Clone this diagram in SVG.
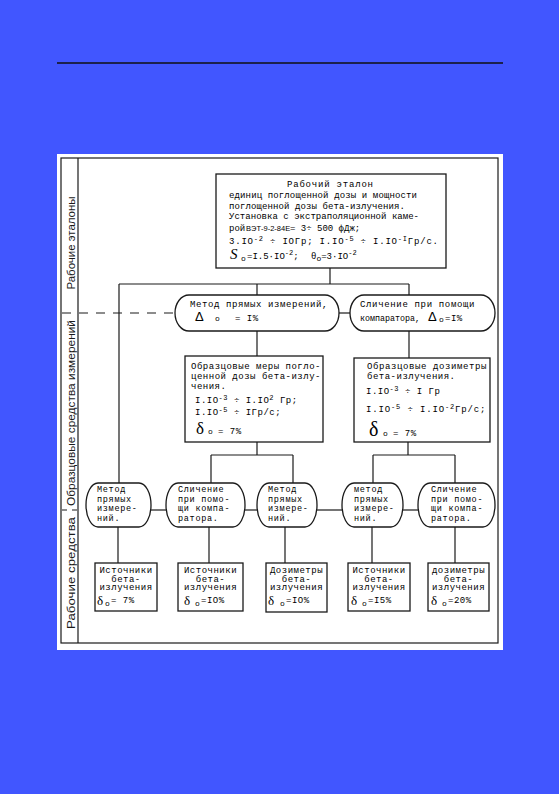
<svg xmlns="http://www.w3.org/2000/svg" width="559" height="794" viewBox="0 0 559 794">
<style>
.ln{stroke:#1a1a1a;stroke-width:1.2;fill:none}
.dash{stroke:#1a1a1a;stroke-width:1.2;fill:none;stroke-dasharray:9,8}
.bx{fill:#fff;stroke:#1a1a1a;stroke-width:1.3}
.t{font-family:"Liberation Mono","DejaVu Sans Mono",monospace;font-size:9px;letter-spacing:0.5px;fill:#000}
.o{font-family:"Liberation Mono","DejaVu Sans Mono",monospace;font-size:8.5px;letter-spacing:0.7px;fill:#000}
.tt{font-family:"Liberation Mono","DejaVu Sans Mono",monospace;font-size:9px;fill:#000}
.sup{font-size:7px}
.sub{font-size:8px}
.lbl{font-family:"Liberation Sans",Arial,sans-serif;font-size:11px;fill:#1a1a1a}
.sym{font-family:"Liberation Serif","Times New Roman",serif}
.gr{font-family:"Liberation Sans",Arial,sans-serif}
</style>
<rect width="559" height="794" fill="#4156ff"/>
<line x1="57" y1="63" x2="503" y2="63" stroke="#111" stroke-width="1.3"/>
<rect x="57" y="154" width="446" height="496" fill="#fff"/>
<g id="frame">
<rect x="61" y="158" width="437" height="485" class="ln" stroke-width="1.4"/>
<line x1="78" y1="158" x2="78" y2="643" class="ln"/>
<text class="lbl" transform="translate(75,243) rotate(-90)" text-anchor="middle" textLength="93" lengthAdjust="spacingAndGlyphs">Рабочие эталоны</text>
<text class="lbl" transform="translate(75,413) rotate(-90)" text-anchor="middle" textLength="186" lengthAdjust="spacingAndGlyphs">Образцовые средства измерений</text>
<text class="lbl" transform="translate(75,573) rotate(-90)" text-anchor="middle" textLength="112" lengthAdjust="spacingAndGlyphs">Рабочие средства</text>
</g>
<g id="connectors">
<line x1="330" y1="268" x2="330" y2="284" class="ln"/>
<line x1="119" y1="284" x2="409" y2="284" class="ln"/>
<line x1="119" y1="284" x2="119" y2="483" class="ln"/>
<line x1="257" y1="284" x2="257" y2="295" class="ln"/>
<line x1="409" y1="284" x2="409" y2="295" class="ln"/>
<line x1="62" y1="313" x2="175" y2="313" class="dash"/>
<line x1="339" y1="313" x2="350" y2="313" class="ln"/>
<line x1="257" y1="331" x2="257" y2="356" class="ln"/>
<line x1="409" y1="331" x2="409" y2="358" class="ln"/>
<line x1="257" y1="442" x2="257" y2="455" class="ln"/>
<line x1="211" y1="455" x2="293" y2="455" class="ln"/>
<line x1="211" y1="455" x2="211" y2="483" class="ln"/>
<line x1="293" y1="455" x2="293" y2="483" class="ln"/>
<line x1="408" y1="442" x2="408" y2="455" class="ln"/>
<line x1="373" y1="455" x2="455" y2="455" class="ln"/>
<line x1="373" y1="455" x2="373" y2="483" class="ln"/>
<line x1="455" y1="455" x2="455" y2="483" class="ln"/>
<line x1="62" y1="510" x2="78" y2="510" class="ln" stroke-dasharray="5,5"/>
<line x1="151" y1="510" x2="166" y2="510" class="ln"/>
<line x1="245" y1="510" x2="257" y2="510" class="ln"/>
<line x1="317" y1="510" x2="342" y2="510" class="ln"/>
<line x1="403" y1="510" x2="418" y2="510" class="ln"/>
<line x1="118" y1="527" x2="118" y2="563" class="ln"/>
<line x1="209" y1="527" x2="209" y2="563" class="ln"/>
<line x1="285" y1="527" x2="285" y2="563" class="ln"/>
<line x1="372" y1="527" x2="372" y2="563" class="ln"/>
<line x1="455" y1="527" x2="455" y2="563" class="ln"/>
</g>
<g id="top-standard">
<rect x="216" y="174" width="230" height="94" class="bx"/>
<text class="tt" x="330" y="187" text-anchor="middle" textLength="86">Рабочий эталон</text>
<text class="tt" x="229" y="198" textLength="188">единиц поглощенной дозы и мощности</text>
<text class="tt" x="229" y="208.5" textLength="176">поглощенной дозы бета-излучения.</text>
<text class="tt" x="229" y="219" textLength="190">Установка с экстраполяционной каме-</text>
<text class="tt" y="231"><tspan x="229">рой</tspan><tspan x="246" class="gr" font-size="7.5">ВЭТ-9-2-84Е</tspan><tspan x="290">= 3÷ 500 фДж;</tspan></text>
<text class="tt" x="229" y="244" textLength="209">3.IO<tspan class="sup" dy="-3.5">-2</tspan><tspan dy="3.5"> ÷ IOГр; I.IO</tspan><tspan class="sup" dy="-3.5">-5</tspan><tspan dy="3.5"> ÷ I.IO</tspan><tspan class="sup" dy="-3.5">-I</tspan><tspan dy="3.5">Гр/с.</tspan></text>
<text class="tt" y="258.5"><tspan x="230" class="sym" font-size="15" font-style="italic">S</tspan><tspan x="241" dy="2" class="sub">o</tspan><tspan x="247" dy="-2">=I.5·IO</tspan><tspan class="sup" dy="-3.5">-2</tspan><tspan dy="3.5">;</tspan><tspan x="311">θ</tspan><tspan dy="2" class="sub">o</tspan><tspan dy="-2">=3·IO</tspan><tspan class="sup" dy="-3.5">-2</tspan></text>
</g>
<g id="method-direct">
<rect x="175" y="295" width="164" height="36" rx="14" ry="18" class="bx"/>
<text class="t" x="190" y="307" textLength="138">Метод прямых измерений,</text>
<text class="t" y="321"><tspan x="195" class="gr" font-size="13">Δ</tspan><tspan x="215" class="sub">о</tspan><tspan x="235">= I%</tspan></text>
</g>
<g id="method-comparator">
<rect x="350" y="295" width="145" height="36" rx="14" ry="18" class="bx"/>
<text class="t" x="360" y="307" textLength="115">Сличение при помощи</text>
<text class="tt" x="360" y="321" textLength="60" lengthAdjust="spacingAndGlyphs">компаратора,</text>
<text class="t" y="321"><tspan x="428" class="gr" font-size="13">Δ</tspan><tspan x="439" class="sub" dy="1">о</tspan><tspan x="445" dy="-1">=I%</tspan></text>
</g>
<g id="ref-measures">
<rect x="185" y="356" width="138" height="86" class="bx"/>
<text class="t" x="191" y="369" textLength="130">Образцовые меры погло-</text>
<text class="t" x="191" y="379" textLength="130">ценной дозы бета-излу-</text>
<text class="t" x="191" y="389">чения.</text>
<text class="t" x="195" y="403">I.IO<tspan class="sup" dy="-3.5">-3</tspan><tspan dy="3.5"> ÷ I.IO</tspan><tspan class="sup" dy="-3.5">2</tspan><tspan dy="3.5"> Гр;</tspan></text>
<text class="t" x="195" y="415">I.IO<tspan class="sup" dy="-3.5">-5</tspan><tspan dy="3.5"> ÷ IГр/с;</tspan></text>
<text class="t" y="434"><tspan x="196" class="sym" font-size="17">δ</tspan><tspan x="208" class="sub">о</tspan><tspan x="218">= 7%</tspan></text>
</g>
<g id="ref-dosimeters">
<rect x="354" y="358" width="136" height="84" class="bx"/>
<text class="t" x="367" y="369" textLength="120">Образцовые дозиметры</text>
<text class="t" x="367" y="379">бета-излучения.</text>
<text class="t" x="366" y="394">I.IO<tspan class="sup" dy="-3.5">-3</tspan><tspan dy="3.5"> ÷ I Гр</tspan></text>
<text class="t" x="366" y="412" textLength="120">I.IO<tspan class="sup" dy="-3.5">-5</tspan><tspan dy="3.5"> ÷ I.IO</tspan><tspan class="sup" dy="-3.5">-2</tspan><tspan dy="3.5">Гр/с;</tspan></text>
<text class="t" y="436"><tspan x="369" class="sym" font-size="20">δ</tspan><tspan x="383" class="sub">о</tspan><tspan x="393">= 7%</tspan></text>
</g>
<g id="oval-a">
<rect x="86" y="483" width="65" height="44" rx="12" ry="22" class="bx"/>
<text class="o" x="97" y="492">Метод</text>
<text class="o" x="97" y="501.5">прямых</text>
<text class="o" x="97" y="511">измере-</text>
<text class="o" x="97" y="520.5">ний.</text>
</g>
<g id="oval-b">
<rect x="166" y="483" width="79" height="44" rx="12" ry="22" class="bx"/>
<text class="o" x="178" y="492">Сличение</text>
<text class="o" x="178" y="501.5">при помо-</text>
<text class="o" x="178" y="511">щи компа-</text>
<text class="o" x="178" y="520.5">ратора.</text>
</g>
<g id="oval-c">
<rect x="257" y="483" width="60" height="44" rx="12" ry="22" class="bx"/>
<text class="o" x="268" y="492">Метод</text>
<text class="o" x="268" y="501.5">прямых</text>
<text class="o" x="268" y="511">измере-</text>
<text class="o" x="268" y="520.5">ний.</text>
</g>
<g id="oval-d">
<rect x="342" y="483" width="61" height="44" rx="12" ry="22" class="bx"/>
<text class="o" x="354" y="492">метод</text>
<text class="o" x="354" y="501.5">прямых</text>
<text class="o" x="354" y="511">измере-</text>
<text class="o" x="354" y="520.5">ний.</text>
</g>
<g id="oval-e">
<rect x="418" y="483" width="77" height="44" rx="12" ry="22" class="bx"/>
<text class="o" x="431" y="492">Сличение</text>
<text class="o" x="431" y="501.5">при помо-</text>
<text class="o" x="431" y="511">щи компа-</text>
<text class="o" x="431" y="520.5">ратора.</text>
</g>
<g id="work-1">
<rect x="95" y="563" width="62" height="48" class="bx"/>
<text class="t" x="126" y="573" text-anchor="middle">Источники</text>
<text class="t" x="126" y="581.5" text-anchor="middle">бета-</text>
<text class="t" x="126" y="590" text-anchor="middle">излучения</text>
<text class="t" y="605"><tspan x="97" class="sym" font-size="13">δ</tspan><tspan x="105" class="sub" dy="1">о</tspan><tspan x="111" dy="-3">= 7%</tspan></text>
</g>
<g id="work-2">
<rect x="178" y="563" width="65" height="48" class="bx"/>
<text class="t" x="210.5" y="573" text-anchor="middle">Источники</text>
<text class="t" x="210.5" y="581.5" text-anchor="middle">бета-</text>
<text class="t" x="210.5" y="590" text-anchor="middle">излучения</text>
<text class="t" y="605"><tspan x="184" class="sym" font-size="13">δ</tspan><tspan x="195" class="sub" dy="1">о</tspan><tspan x="201" dy="-3">=IO%</tspan></text>
</g>
<g id="work-3">
<rect x="266" y="563" width="61" height="49" class="bx"/>
<text class="t" x="296.5" y="573" text-anchor="middle">Дозиметры</text>
<text class="t" x="296.5" y="581.5" text-anchor="middle">бета-</text>
<text class="t" x="296.5" y="590" text-anchor="middle">излучения</text>
<text class="t" y="605"><tspan x="268" class="sym" font-size="13">δ</tspan><tspan x="280" class="sub" dy="1">о</tspan><tspan x="286" dy="-3">=IO%</tspan></text>
</g>
<g id="work-4">
<rect x="348" y="563" width="62" height="48" class="bx"/>
<text class="t" x="379" y="573" text-anchor="middle">Источники</text>
<text class="t" x="379" y="581.5" text-anchor="middle">бета-</text>
<text class="t" x="379" y="590" text-anchor="middle">излучения</text>
<text class="t" y="605"><tspan x="351" class="sym" font-size="13">δ</tspan><tspan x="362" class="sub" dy="1">о</tspan><tspan x="368" dy="-3">=I5%</tspan></text>
</g>
<g id="work-5">
<rect x="428" y="563" width="61" height="48" class="bx"/>
<text class="t" x="458.5" y="573" text-anchor="middle">дозиметры</text>
<text class="t" x="458.5" y="581.5" text-anchor="middle">бета-</text>
<text class="t" x="458.5" y="590" text-anchor="middle">излучения</text>
<text class="t" y="605"><tspan x="431" class="sym" font-size="13">δ</tspan><tspan x="442" class="sub" dy="1">о</tspan><tspan x="448" dy="-3">=20%</tspan></text>
</g>
</svg>
